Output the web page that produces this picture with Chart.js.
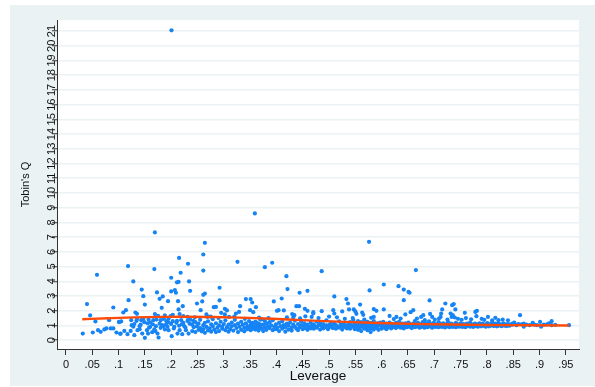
<!DOCTYPE html>
<html>
<head>
<meta charset="utf-8">
<title>Tobin's Q vs Leverage</title>
<script src="https://cdn.jsdelivr.net/npm/chart.js@4.4.1/dist/chart.umd.min.js"></script>
<style>
html, body { margin: 0; padding: 0; background: #fff; }
canvas { display: block; }
</style>
</head>
<body>
<canvas id="myChart" width="595" height="387"></canvas>
<script>
// ==========================================
// Data
// ==========================================

const xTickValues = [0, .05, .1, .15, .2, .25, .3, .35, .4, .45, .5, .55, .6, .65, .7, .75, .8, .85, .9, .95];
const xTickLabels = ["0", ".05", ".1", ".15", ".2", ".25", ".3", ".35", ".4", ".45", ".5", ".55", ".6", ".65", ".7", ".75", ".8", ".85", ".9", ".95"];
const yTickValues = [0, 1, 2, 3, 4, 5, 6, 7, 8, 9, 10, 11, 12, 13, 14, 15, 16, 17, 18, 19, 20, 21];
const yTickLabels = yTickValues.map(String);

// lowess fit
const fitLeverage = [0.031, 0.08, 0.13, 0.18, 0.23, 0.28, 0.33, 0.38, 0.43, 0.48, 0.53, 0.58, 0.63, 0.68, 0.73, 0.78, 0.83, 0.88, 0.956];
const fitQ = [1.42, 1.49, 1.55, 1.58, 1.59, 1.57, 1.53, 1.47, 1.39, 1.31, 1.24, 1.18, 1.13, 1.09, 1.06, 1.04, 1.02, 1.01, 1.00];

// firms above the main cloud: [leverage, Tobin's Q]
const highPoints = [
   [0.2006,21.05],[0.359,8.61],[0.169,7.32],[0.576,6.68],[0.264,6.61],[0.261,5.82],[0.215,5.59],[0.326,5.32],
   [0.392,5.26],[0.232,5.19],[0.118,5.03],[0.378,4.96],[0.168,4.83],[0.665,4.76],[0.261,4.73],[0.486,4.69],
   [0.218,4.58],[0.059,4.44],[0.419,4.35],[0.200,4.24],[0.128,3.99],[0.234,3.99],[0.214,3.96],[0.211,3.93],
   [0.604,3.78],[0.632,3.67],[0.292,3.56],[0.421,3.47],[0.144,3.44],[0.642,3.44],[0.207,3.40],[0.577,3.38],
   [0.236,3.35],[0.459,3.35],[0.200,3.31],[0.651,3.28],[0.173,3.24],[0.209,3.22],[0.444,3.22],[0.653,3.22],
   [0.264,3.17],[0.261,3.08],[0.147,2.99],[0.510,2.97],[0.184,2.97],[0.410,2.83],[0.178,2.81],[0.342,2.79],
   [0.351,2.79],[0.533,2.79],[0.119,2.72],[0.642,2.72],[0.292,2.70],[0.691,2.70],[0.194,2.65],[0.213,2.65],
   [0.259,2.63],[0.395,2.63],[0.354,2.56],[0.249,2.49],[0.536,2.49],[0.721,2.49],[0.040,2.45],[0.737,2.45],
   [0.150,2.42],[0.559,2.42],[0.734,2.38],[0.222,2.31],[0.331,2.31],[0.438,2.31],[0.443,2.31],[0.285,2.26],
   [0.281,2.24],[0.361,2.24],[0.090,2.22],[0.182,2.20],[0.302,2.13],[0.454,2.13],[0.585,2.11],[0.214,2.09],
   [0.538,2.09],[0.547,2.09],[0.604,2.09],[0.715,2.09],[0.740,2.09],[0.114,2.04],[0.256,2.04],[0.350,2.04],
   [0.404,2.04],[0.508,2.04],[0.660,2.04],[0.306,2.02],[0.414,2.02],[0.401,1.99],[0.459,1.99],[0.590,1.99],
   [0.781,1.99],[0.486,1.97],[0.525,1.95],[0.550,1.95],[0.329,1.92],[0.778,1.92],[0.356,1.90],[0.470,1.90],
   [0.563,1.88],[0.109,1.88],[0.132,1.88],[0.295,1.86],[0.758,1.86],[0.323,1.81],[0.470,1.81],[0.510,1.81],
   [0.713,1.81],[0.731,1.81],[0.135,1.79],[0.552,1.79],[0.692,1.78],[0.169,1.77],[0.216,1.77],[0.430,1.77],
   [0.267,1.75],[0.302,1.75],[0.203,1.72],[0.565,1.72],[0.434,1.70],[0.679,1.70],[0.735,1.70],[0.863,1.70],
   [0.046,1.68],[0.188,1.68],[0.175,1.65],[0.199,1.63],[0.223,1.63],[0.780,1.63],[0.231,1.58],[0.269,1.58],
   [0.310,1.58],[0.467,1.58],[0.585,1.58],[0.628,1.58],[0.675,1.58],[0.696,1.58],[0.712,1.58],[0.802,1.58],
   [0.367,1.54],[0.432,1.54],[0.739,1.54],[0.580,1.52],[0.816,1.52],[0.636,1.47],[0.667,1.47],[0.709,1.47],
   [0.623,1.43],[0.372,1.41],[0.701,1.40],[0.682,1.36],[0.822,1.36],[0.378,1.31],[0.615,1.65],[0.645,1.75],
   [0.655,1.90],[0.480,1.50],[0.500,1.60],[0.515,1.55],[0.530,1.45],[0.545,1.50],[0.245,1.55],[0.275,1.60],
   [0.290,1.50],[0.320,1.60],[0.340,1.45],[0.385,1.50],[0.420,1.55],[0.445,1.48],[0.455,1.62],[0.725,1.40],
   [0.733,1.58],[0.745,1.45],[0.752,1.38],[0.760,1.50],[0.770,1.42],[0.790,1.45],[0.795,1.38],[0.810,1.35],
   [0.830,1.40],[0.840,1.35]
];

// low leverage firms, below the fit: [leverage, Tobin's Q]
const lowPoints = [
   [0.032,0.45],[0.051,0.52],[0.056,1.27],[0.061,0.68],[0.066,0.57],[0.073,0.73],[0.077,0.80],[0.082,1.36],
   [0.085,0.80],[0.090,0.80],[0.096,0.52],[0.101,1.25],[0.104,0.45],[0.103,0.43],[0.111,0.63],[0.117,0.41],
   [0.123,0.63],[0.128,0.91],[0.130,0.34],[0.136,0.68],[0.140,0.95],[0.145,0.45],[0.150,0.16],[0.154,0.68],
   [0.156,0.45],[0.160,0.91],[0.164,0.54],[0.168,0.73],[0.171,0.95],[0.174,0.45],[0.176,0.18],[0.180,0.84],
   [0.183,1.02],[0.188,0.73],[0.193,0.91],[0.195,0.68],[0.201,0.27],[0.206,0.91],[0.212,0.45],[0.216,0.68],
   [0.221,0.41],[0.225,0.95],[0.228,0.68],[0.233,0.45],
   [0.101,1.22],[0.105,1.27],[0.124,1.36],[0.134,1.31],[0.135,1.43],[0.143,1.36],[0.147,1.45],[0.149,1.22],
   [0.157,1.40],[0.166,1.36],[0.172,1.40],[0.180,1.36],[0.186,1.45],[0.191,1.29],[0.195,1.45],[0.203,1.29],
   [0.211,1.31],[0.219,1.36],[0.223,1.18],[0.231,1.31],[0.236,1.40],[0.242,1.31],
   [0.130,1.10],[0.142,1.05],[0.155,1.15],[0.165,1.08],[0.178,1.12],[0.190,1.05],[0.200,1.10],[0.210,1.18],
   [0.220,1.08],[0.235,1.12],[0.125,1.02],[0.160,1.20],[0.185,0.95],[0.205,0.80],[0.227,0.85],[0.170,0.62],
   [0.158,0.85],[0.140,0.75],[0.195,1.20],[0.215,0.98]
];

// main cloud: each row is a leverage value followed by the Tobin's Q of firms there
const cloudRows = [
   [0.240,1.05,0.62],[0.243,0.88],[0.246,1.22,0.55],[0.249,0.95],[0.252,1.12,0.70],[0.255,0.82,1.38],[0.258,0.60],
   [0.261,1.02,0.75],[0.264,0.50,1.18],[0.267,0.90],[0.270,1.28,0.66],[0.273,0.80],[0.276,1.08,0.58],[0.279,0.95,1.42],
   [0.282,0.72],[0.285,1.15,0.55],[0.288,0.85],[0.291,1.00,0.62],[0.294,1.25],[0.297,0.78,0.92],[0.300,1.10],
   [0.303,0.68,1.35],[0.306,0.88],[0.309,1.05,0.58],[0.312,0.75],[0.315,1.20,0.95],[0.318,0.65],[0.321,1.02,1.38],
   [0.324,0.82],[0.327,1.12,0.55],[0.330,0.92],[0.333,0.70,1.25],[0.336,1.05],[0.339,0.85,0.60],[0.342,1.15],
   [0.345,0.95,0.75],[0.348,1.30,0.88],[0.351,1.02,0.68],[0.352,0.92,1.15],[0.354,0.80,1.18],[0.356,0.78,1.02],
   [0.357,0.92,1.08],[0.360,0.72,1.25],[0.362,0.88,1.20],[0.363,0.98,0.85],[0.366,1.12,0.65,0.95],[0.369,0.90,1.40],
   [0.370,1.05,0.82],[0.372,0.78],[0.375,1.05,0.62],[0.378,0.88],[0.381,1.15,0.70],[0.384,0.95],[0.387,0.82,1.22],
   [0.390,1.00],[0.393,0.68,1.35],[0.396,0.90],[0.399,1.08,0.75],[0.402,0.85],[0.405,1.18,0.62],[0.408,0.95],
   [0.411,0.78,1.28],[0.414,1.02],[0.417,0.88,0.58],[0.420,1.12],[0.423,0.72,0.98],[0.426,1.20],[0.429,0.85,0.65],
   [0.432,1.05],[0.435,0.92,1.32],[0.438,0.78],[0.441,1.10,0.68],[0.444,0.88],[0.447,1.00,1.25],[0.450,0.75],
   [0.453,0.95,1.15],[0.456,0.82],[0.459,1.05,0.70],[0.462,0.90],[0.465,1.18,0.80],[0.468,0.98],
   [0.471,1.08,0.78],[0.474,0.92],[0.477,1.25,0.85],[0.480,1.02],[0.483,0.72,1.15],[0.486,0.95],[0.489,1.10,0.80],
   [0.492,0.88],[0.495,1.35,1.00],[0.498,0.75],[0.501,1.05,0.90],[0.504,1.20],[0.507,0.82,0.98],[0.510,1.12],
   [0.513,0.78,1.02],[0.516,0.92],[0.519,1.28,0.85],[0.522,1.05],[0.525,0.72,0.95],[0.528,1.15],[0.531,0.88,1.00],
   [0.534,0.80],[0.537,1.10,0.95],[0.540,1.22,0.78],[0.543,1.02],[0.546,0.90,1.38],
   [0.549,1.05,0.75,1.18],[0.552,0.88,0.98],[0.555,1.12,0.70,1.30],[0.558,0.95,0.82],[0.561,1.05,1.22,0.62],
   [0.564,0.90,1.00],[0.567,1.15,0.78,1.40],[0.570,0.85,0.98],[0.573,1.08,0.68,1.25],[0.576,0.92,1.02],
   [0.579,1.18,0.80,0.55],[0.582,0.95,1.10],[0.585,0.72,1.30,1.00],[0.588,0.88,1.05],[0.591,1.15,0.82],
   [0.594,0.98,0.70],[0.597,1.08,1.20],[0.600,0.90,0.78],[0.603,1.02,1.25],[0.606,0.85,0.95],[0.609,1.12,0.75],
   [0.612,1.00,0.88],[0.615,1.20,0.92],[0.618,0.80,1.05],
   [0.621,1.10,0.88],[0.624,0.95,1.02],[0.627,1.18,0.82],[0.630,1.00,0.90],[0.633,1.08,1.25],[0.636,0.85,0.98],
   [0.639,1.12,0.92],[0.642,1.02,0.80],[0.645,0.95,1.15],[0.648,1.05,0.88],[0.651,1.20,0.98],[0.654,0.90,1.08],
   [0.657,1.00,0.82],[0.660,1.12,0.95],[0.663,0.88,1.30],[0.666,1.05,0.92],[0.669,0.98,1.18],[0.672,0.85,1.02],
   [0.675,1.10,0.90],[0.678,0.95,1.22],[0.681,1.02,0.85],[0.684,1.15,0.92],[0.687,0.88,1.05],[0.690,1.00,1.28],
   [0.693,0.92,1.10],[0.696,1.05,0.85],[0.699,0.98,1.18],[0.702,1.08,0.90],[0.705,0.95,1.02],[0.708,1.22,0.88],
   [0.711,1.00,1.12],[0.714,0.90,1.05],[0.717,1.15,0.95],[0.720,1.02,0.86],[0.723,0.92,1.10],[0.726,1.05,1.25],
   [0.729,0.98,0.88],[0.732,1.12,1.00],[0.735,0.90,1.08],[0.738,1.02,0.95],[0.741,1.18,0.88],[0.744,0.95,1.05],
   [0.747,1.08,0.92],[0.750,1.00,1.15],[0.753,0.90,1.05],[0.756,1.10,0.96],[0.759,1.02,0.88],[0.762,0.95,1.12],
   [0.765,1.05,1.00],[0.768,0.92,1.20],[0.771,1.08,0.98],[0.774,1.00,0.90],[0.777,1.12,1.04],[0.780,0.95,1.10],
   [0.783,1.02,0.92],[0.786,1.15,1.05],[0.789,0.98,0.94],[0.792,1.06,1.12],[0.795,0.96,1.00],[0.798,1.08,0.92],
   [0.801,1.00,1.16],[0.804,0.94,1.05],[0.807,1.10,0.98],[0.810,1.02,1.22],[0.813,0.96,1.08],[0.816,1.12,1.00],
   [0.819,1.04,0.94],[0.822,0.98,1.15],[0.825,1.08,1.02],[0.828,1.00,0.95],[0.831,1.14,1.06],[0.834,0.98,1.10],
   [0.837,1.04,0.96],[0.840,1.10,1.00],[0.843,0.98,1.05],
   [0.848,1.05,1.12],[0.852,1.20],[0.856,1.02],[0.860,1.10],[0.866,1.08],[0.870,1.13,0.91],[0.875,1.05],
   [0.881,1.02],[0.887,1.18],[0.890,1.06],[0.895,1.02],[0.901,1.24],[0.903,0.91],[0.908,1.05],[0.914,1.07],
   [0.918,1.15],[0.923,1.29,1.02],[0.930,1.04],[0.956,1.02]
];

// ==========================================
// Chart
// ==========================================

const fontFamily = "'Liberation Sans', Arial, Helvetica, sans-serif";

let firms = [];
highPoints.forEach(p => firms.push({ x: p[0], y: p[1] }));
lowPoints.forEach(p => firms.push({ x: p[0], y: p[1] }));
cloudRows.forEach(row => {
   row.slice(1).forEach(q => firms.push({ x: row[0], y: q }));
});

let fitLine = fitLeverage.map((x, i) => ({ x: x, y: fitQ[i] }));

// grey graph region, white plot region
const stataBackground = {
   id: "stataBackground",
   beforeDraw(chart) {
      const { ctx, chartArea } = chart;
      ctx.save();
      ctx.fillStyle = "#ffffff";
      ctx.fillRect(0, 0, chart.width, chart.height);
      ctx.fillStyle = "#eaf2f3";
      ctx.fillRect(10, 5, chart.width - 10, chart.height - 6);
      ctx.fillStyle = "#ffffff";
      ctx.fillRect(chartArea.left, chartArea.top, chartArea.right - chartArea.left, chartArea.bottom - chartArea.top);
      ctx.restore();
   }
};

// y tick labels are vertical in the original
const verticalYTicks = {
   id: "verticalYTicks",
   afterDraw(chart) {
      const { ctx } = chart;
      const y = chart.scales.y;
      ctx.save();
      ctx.fillStyle = "#111";
      ctx.font = "11px " + fontFamily;
      ctx.textAlign = "center";
      ctx.textBaseline = "alphabetic";
      y.ticks.forEach((t, i) => {
         ctx.save();
         ctx.translate(y.right - 2, y.getPixelForValue(t.value));
         ctx.rotate(-Math.PI / 2);
         ctx.fillText(yTickLabels[i], 0, 0);
         ctx.restore();
      });
      ctx.restore();
   }
};

const ctx = document.getElementById("myChart");

let chart = new Chart(ctx, {
   type: "scatter",
   data: {
      datasets: [
         {
            label: "lowess",
            data: fitLine,
            showLine: true,
            borderColor: "#ff4a0a",
            borderWidth: 2.4,
            pointRadius: 0,
            cubicInterpolationMode: "monotone",
            order: 0
         },
         {
            label: "Tobin's Q",
            data: firms,
            backgroundColor: "#1684f5",
            pointRadius: 2.1,
            pointBorderWidth: 0,
            order: 1
         }
      ]
   },
   options: {
      responsive: false,
      animation: false,
      devicePixelRatio: 1,
      layout: { padding: { left: 10, top: 20, right: 16, bottom: 0 } },
      plugins: {
         legend: { display: false },
         tooltip: { enabled: false }
      },
      scales: {
         x: {
            type: "linear",
            min: -0.017,
            max: 0.975,
            afterBuildTicks: s => { s.ticks = xTickValues.map(v => ({ value: v })); },
            afterFit: s => { s.height = 38; },
            ticks: {
               callback: (v, i) => xTickLabels[i],
               font: { family: fontFamily, size: 11 },
               color: "#111",
               padding: 3,
               maxRotation: 0,
               autoSkip: false
            },
            grid: { drawOnChartArea: false, tickColor: "#333", tickLength: 6, tickWidth: 1 },
            border: { color: "#333", width: 1 },
            title: {
               display: true,
               text: "Leverage",
               font: { family: fontFamily, size: 13.5 },
               color: "#111",
               padding: { top: 0, bottom: 3 }
            }
         },
         y: {
            type: "linear",
            min: -0.6,
            max: 21.75,
            afterBuildTicks: s => { s.ticks = yTickValues.map(v => ({ value: v })); },
            afterFit: s => { s.width = 47; },
            ticks: { display: false },
            grid: { color: "#eaf2f3", lineWidth: 1.5, tickColor: "#333", tickLength: 5, tickWidth: 1 },
            border: { color: "#333", width: 1 },
            title: {
               display: true,
               text: "Tobin's Q",
               font: { family: fontFamily, size: 11 },
               color: "#111",
               padding: { top: 9, bottom: 0 }
            }
         }
      }
   },
   plugins: [stataBackground, verticalYTicks]
});
</script>
</body>
</html>
